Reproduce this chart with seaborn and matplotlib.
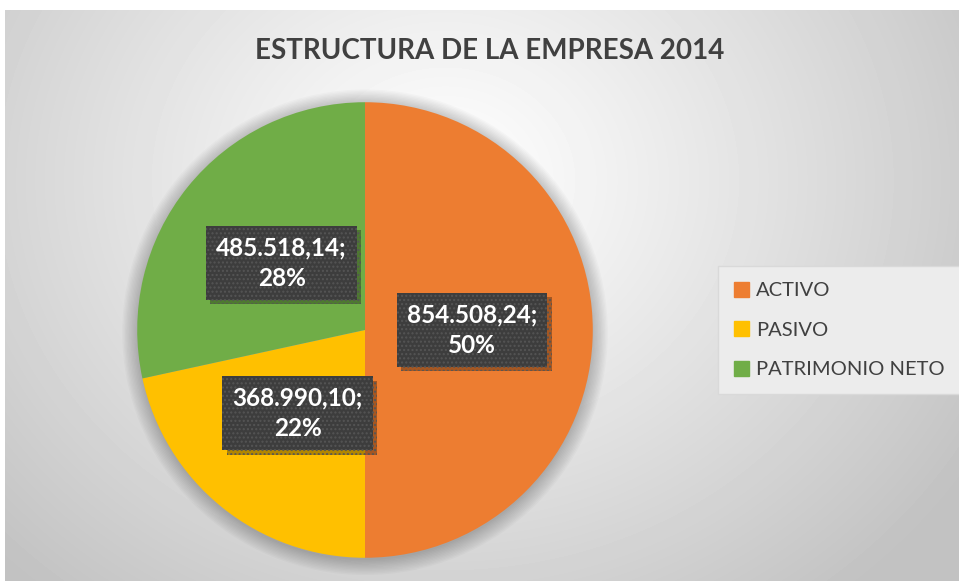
import numpy as np
import seaborn as sns
import matplotlib.pyplot as plt
import matplotlib.patheffects as pe
from matplotlib.patches import Circle

categorias = ["ACTIVO", "PASIVO", "PATRIMONIO NETO"]
valores = [854508.24, 368990.10, 485518.14]
colores = ["#ED7D31", "#FFC000", "#70AD47"]
titulo = "ESTRUCTURA DE LA EMPRESA 2014"

sns.set_theme(style="white")
plt.rcParams['font.family'] = ['Lato', 'DejaVu Sans']


def formato_es(v):
    # 854508.24 -> 854.508,24
    s = f"{v:,.2f}"
    return s.replace(",", "X").replace(".", ",").replace("X", ".")


total = sum(valores)
fig = plt.figure(figsize=(9.59, 5.81), dpi=100)
fig.patch.set_facecolor("white")

# fondo con degradado radial
bg = fig.add_axes([5 / 959, 0, 1 - 5 / 959, 1 - 10 / 581])
w, h = 954, 571
xx, yy = np.meshgrid(np.arange(w), np.arange(h))
d = np.sqrt((xx - 440) ** 2 + ((yy - 170) * 1.15) ** 2)
img = 1 - 0.24 * np.clip(d / 620, 0, 1) ** 1.1
bg.imshow(img, cmap="gray", vmin=0, vmax=1, aspect="auto", interpolation="bilinear")
bg.set_axis_off()

# tarta
ax = fig.add_axes([119 / 959, 5 / 581, 492 / 959, 492 / 581])
for k in range(12):
    ax.add_patch(Circle((0.0, -0.01), 1.0 + 0.006 * k, color="black",
                        alpha=0.018, lw=0, zorder=0))
wedges, _ = ax.pie(valores, colors=sns.color_palette(colores), startangle=90,
                   counterclock=False, radius=1.0,
                   wedgeprops=dict(linewidth=0, edgecolor="none"))
ax.set_xlim(-1.08, 1.08)
ax.set_ylim(-1.08, 1.08)
ax.set_aspect("equal")
ax.set_axis_off()

# etiquetas de datos (caja con sombra)
ang0 = 90
for wdg, v in zip(wedges, valores):
    frac = v / total
    mid = np.deg2rad(ang0 - frac * 180)
    ang0 -= frac * 360
    r = 0.47
    txt = f"{formato_es(v)};\n{frac * 100:.0f}%"
    t = ax.text(r * np.cos(mid), r * np.sin(mid), txt, ha="center", va="center",
                fontsize=17.5, fontweight="bold", color="white", linespacing=1.4,
                bbox=dict(boxstyle="square,pad=0.42", fc="#3d3d3d", ec="#555555",
                          lw=0, hatch="...."), zorder=5)
    t.get_bbox_patch().set_path_effects([
        pe.SimplePatchShadow(offset=(3, -3), shadow_rgbFace="black", alpha=0.3),
        pe.Normal()])

# leyenda
handles = [plt.Rectangle((0, 0), 1, 1, color=c) for c in colores]
leg = fig.legend(handles, categorias, loc="center left",
                 bbox_to_anchor=(718 / 959, 1 - 330 / 581), frameon=True,
                 fontsize=14.5, handlelength=0.75, handleheight=0.75,
                 handletextpad=0.35, labelspacing=1.1, borderpad=0.8,
                 borderaxespad=0, labelcolor="#404040", fancybox=False)
leg.get_frame().set_facecolor("#ececec")
leg.get_frame().set_edgecolor("#d9d9d9")
leg.get_frame().set_alpha(1)

fig.text(490 / 959, 1 - 51 / 581, titulo, ha="center", va="center",
         fontsize=20, fontweight="bold", color="#404040")

fig.savefig("out.png", dpi=100)
plt.close()
